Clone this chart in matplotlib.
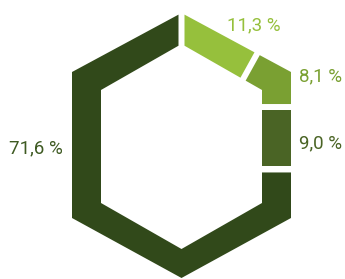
import matplotlib.pyplot as plt
import numpy as np
from matplotlib.patches import Polygon

# data
labels = ['11,3 %', '8,1 %', '9,0 %', '71,6 %']
shares = [11.3, 8.1, 9.0, 71.6]
colors = ['#96c03c', '#7aa032', '#4a6425', '#31491a']
label_colors = ['#96c03c', '#7aa032', '#4a6425', '#3e5a22']

# layout (pixel units), hexagon ring clockwise from the top vertex
outer = np.array([(181.5, 13), (291, 72), (291, 218), (181.5, 278), (72, 218), (72, 72)], float)
inner = np.array([(181.5, 44), (262, 90), (262, 203), (181.5, 249), (101, 203), (101, 90)], float)
label_pos = [(254, 25), (321, 76), (321, 143), (36, 148)]
GAP = 6

mid = (outer + inner) / 2
edge_len = np.array([np.linalg.norm(mid[(k + 1) % 6] - mid[k]) for k in range(6)])
cum = np.concatenate([[0], np.cumsum(edge_len)])
L = cum[-1]


def locate(s):
    k = int(np.clip(np.searchsorted(cum, s, 'right') - 1, 0, 5))
    t = (s - cum[k]) / edge_len[k]
    return k, t, mid[k] + t * (mid[(k + 1) % 6] - mid[k])


def intersect(p, d, a, b):
    m = np.column_stack([d, a - b])
    u, v = np.linalg.solve(m, a - p)
    return p + u * d


def cut(sc, side):
    k, t, p = locate(sc)
    if t < 1e-6 or t > 1 - 1e-6:
        v = (k + int(round(t))) % 6
        d = outer[v] - inner[v]
        p = mid[v]
    else:
        e = mid[(k + 1) % 6] - mid[k]
        d = np.array([-e[1], e[0]])
    d = d / np.linalg.norm(d)
    tan = locate(min(sc + 1, L))[2] - locate(max(sc - 1, 0))[2]
    tan = tan - np.dot(tan, d) * d
    tan = tan / np.linalg.norm(tan)
    p2 = p + side * GAP / 2 * tan
    ke = locate(sc + side * GAP / 2)[0]
    a, b = (ke + 1) % 6, ke
    pin = intersect(p2, d, inner[ke], inner[(ke + 1) % 6])
    pout = intersect(p2, d, outer[ke], outer[(ke + 1) % 6])
    return ke, pin, pout


fig = plt.figure(figsize=(3.45, 2.79), dpi=100)
ax = fig.add_axes([0, 0, 1, 1])
ax.set_xlim(0, 345)
ax.set_ylim(279, 0)
ax.axis('off')

bounds = np.concatenate([[0], np.cumsum(shares)]) / sum(shares) * L
for i in range(len(shares)):
    ea, ia, oa = cut(bounds[i], 1)
    eb, ib, ob = cut(bounds[i + 1], -1)
    verts = range(ea + 1, eb + 1)
    pts = [oa] + [outer[j % 6] for j in verts] + [ob, ib] + [inner[j % 6] for j in reversed(verts)] + [ia]
    ax.add_patch(Polygon(pts, closed=True, facecolor=colors[i], edgecolor='none'))
    ax.text(label_pos[i][0], label_pos[i][1], labels[i], color=label_colors[i],
            fontsize=13.5, family='Roboto', ha='center', va='center')

plt.savefig('out.png', dpi=100)
